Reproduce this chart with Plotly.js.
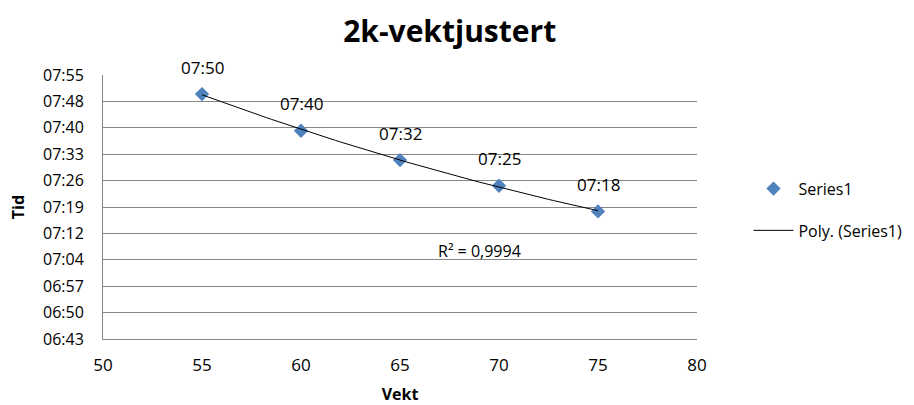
<!DOCTYPE html>
<html>
<head>
<meta charset="utf-8">
<script src="https://cdn.plot.ly/plotly-3.0.1.min.js"></script>
<style>html,body{margin:0;padding:0;background:#fff;}#chart{width:914px;height:405px;}</style>
</head>
<body>
<div id="chart"></div>
<script>
// Data (times in seconds, mm:ss)
const vekt = [55, 60, 65, 70, 75];
const tid = [470, 460, 452, 445, 438];
const pointLabels = ["07:50", "07:40", "07:32", "07:25", "07:18"];
const yTickVals = [403.2, 410.4, 417.6, 424.8, 432.0, 439.2, 446.4, 453.6, 460.8, 468.0, 475.2];
const yTickText = ["06:43", "06:50", "06:57", "07:04", "07:12", "07:19", "07:26", "07:33", "07:40", "07:48", "07:55"];
const xTickVals = [50, 55, 60, 65, 70, 75, 80];
const r2Text = "R² = 0,9994";

// quadratic least-squares fit (Excel "Poly." order 2 trendline)
function polyFit2(xs, ys) {
  let S = [0,0,0,0,0], T = [0,0,0];
  for (let i = 0; i < xs.length; i++) {
    let p = 1;
    for (let k = 0; k < 5; k++) { S[k] += p; if (k < 3) T[k] += p * ys[i]; p *= xs[i]; }
  }
  const A = [[S[0],S[1],S[2],T[0]],[S[1],S[2],S[3],T[1]],[S[2],S[3],S[4],T[2]]];
  for (let c = 0; c < 3; c++) {
    for (let r = c + 1; r < 3; r++) {
      const f = A[r][c] / A[c][c];
      for (let k = c; k < 4; k++) A[r][k] -= f * A[c][k];
    }
  }
  const co = [0,0,0];
  for (let r = 2; r >= 0; r--) {
    let s = A[r][3];
    for (let k = r + 1; k < 3; k++) s -= A[r][k] * co[k];
    co[r] = s / A[r][r];
  }
  return co;
}
const co = polyFit2(vekt, tid);
const fx = [], fy = [];
const x0 = Math.min(...vekt), x1 = Math.max(...vekt);
for (let i = 0; i <= 80; i++) {
  const x = x0 + (x1 - x0) * i / 80;
  fx.push(x); fy.push(co[0] + co[1] * x + co[2] * x * x);
}

const font = "Open Sans, Noto Sans, DejaVu Sans, sans-serif";
const traces = [
  {
    x: vekt, y: tid, type: "scatter", mode: "markers", name: "Series1", legendgroup: "a",
    marker: {symbol: "diamond", size: 11, color: "#4F81BD"},
    cliponaxis: false
  },
  {
    x: fx, y: fy, type: "scatter", mode: "lines", name: "Poly. (Series1)", legendgroup: "b",
    line: {color: "#000", width: 1}
  }
];

const annotations = vekt.map((v, i) => ({
  x: v, y: tid[i], xref: "x", yref: "y", text: pointLabels[i], showarrow: false,
  yshift: 27, font: {family: font, size: 17, color: "#000"}
}));
annotations.push({x: 69.0, y: 427.3, xref: "x", yref: "y", text: r2Text, showarrow: false,
  font: {family: font, size: 16, color: "#000"}});

const layout = {
  width: 914, height: 405,
  margin: {l: 103, r: 217, t: 75, b: 66, autoexpand: false},
  paper_bgcolor: "#fff", plot_bgcolor: "#fff",
  title: {text: "<b>2k-vektjustert</b>", font: {family: font, size: 30, color: "#000"}, x: 0.492, xanchor: "center", y: 0.923, yanchor: "middle"},
  font: {family: font, size: 16, color: "#000"},
  xaxis: {
    range: [50, 80], tickvals: xTickVals, ticks: "", showgrid: false, zeroline: false,
    showline: true, linecolor: "#868686", linewidth: 1, ticklabelstandoff: 11,
    tickfont: {family: font, size: 17, color: "#000"},
    title: {text: "<b>Vekt</b>", font: {family: font, size: 16, color: "#000"}, standoff: 15}
  },
  yaxis: {
    range: [403.2, 475.2], tickvals: yTickVals, ticktext: yTickText, ticks: "",
    showgrid: true, gridcolor: "#868686", gridwidth: 1, zeroline: false,
    showline: true, linecolor: "#868686", linewidth: 1, ticklabelstandoff: 15,
    tickfont: {family: font, size: 16, color: "#000"},
    title: {text: "<b>Tid</b>", font: {family: font, size: 16, color: "#000"}, standoff: 14}
  },
  showlegend: true,
  legend: {x: 1.0867, xanchor: "left", y: 0.49, yanchor: "middle", font: {family: font, size: 16, color: "#000"}, tracegroupgap: 18, itemwidth: 40},
  annotations: annotations
};

Plotly.newPlot("chart", traces, layout, {displayModeBar: false, staticPlot: true});
</script>
</body>
</html>
